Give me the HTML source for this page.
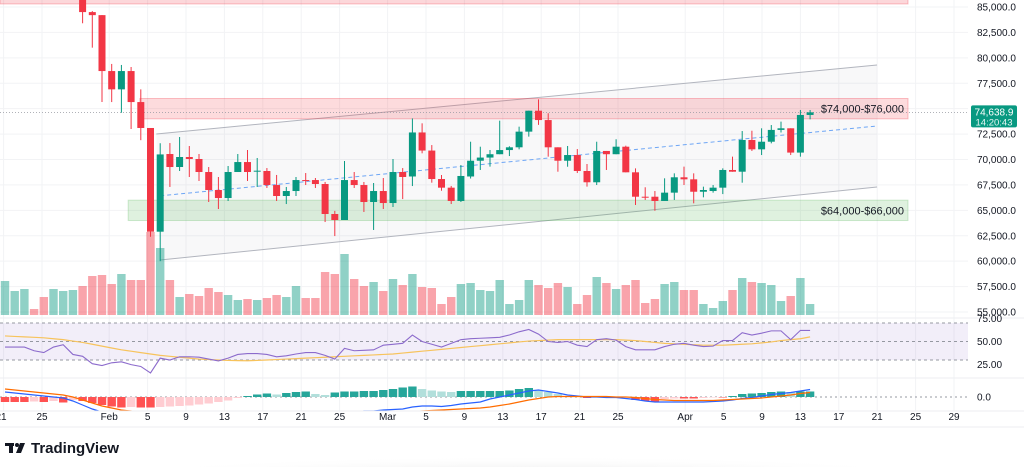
<!DOCTYPE html>
<html><head><meta charset="utf-8"><style>
html,body{margin:0;padding:0;background:#fff;width:1024px;height:467px;overflow:hidden}
svg{display:block;font-family:"Liberation Sans",sans-serif}
</style></head><body>
<svg id="chart" width="1024" height="467" viewBox="0 0 1024 467" xmlns="http://www.w3.org/2000/svg">
<defs>
<clipPath id="cp-price"><rect x="0" y="0" width="968" height="317"/></clipPath>
<clipPath id="cp-rsi"><rect x="0" y="319" width="968" height="58"/></clipPath>
<clipPath id="cp-macd"><rect x="0" y="379" width="968" height="32"/></clipPath>
<clipPath id="cp-dates"><rect x="0" y="411" width="968" height="16"/></clipPath>
<radialGradient id="shadow" cx="0.5" cy="1" r="0.6"><stop offset="0" stop-color="#d8d8d8"/><stop offset="1" stop-color="#ffffff" stop-opacity="0"/></radialGradient>
</defs>
<rect x="150" y="440" width="760" height="40" fill="url(#shadow)"/>
<g id="grid"></g>
<g id="zones" clip-path="url(#cp-price)"></g>
<g id="vol" clip-path="url(#cp-price)"></g>
<g id="candles" clip-path="url(#cp-price)"></g>
<g id="rsi" clip-path="url(#cp-rsi)"></g>
<g id="macd" clip-path="url(#cp-macd)"></g>
<g id="axes"></g>
<g id="dates" clip-path="url(#cp-dates)"></g>
<g>
<rect x="5" y="443" width="9" height="3" fill="#131722"/>
<rect x="9" y="443" width="4" height="10" fill="#131722"/>
<circle cx="17" cy="445" r="2" fill="#131722"/>
<polygon points="20,443 25,443 21,453 16,453" fill="#131722"/>
<text x="31" y="453" font-size="15" font-weight="bold" fill="#131722">TradingView</text>
</g>
</svg>
<script>
const opens=[88000,89000,90500,91500,91000,89500,90500,91000,86500,84500,84200,78700,76900,78700,75650,73100,62900,70540,69262,70246,70050,68770,67000,66210,68770,69750,68870,68870,67490,66410,66900,67980,67980,67590,64640,64050,67980,67490,65820,66900,65720,68770,68330,72660,70880,68080,67230,65920,68330,69880,70190,70520,70930,71200,72740,74800,73880,71200,69880,70440,68870,67760,70840,70520,71260,68740,66340,66340,65920,66740,68250,68050,66830,66900,67230,68970,68800,71920,71000,71750,72910,73070,70680,74380];
const highs=[90000,91000,92000,92000,91500,91000,91500,92500,87000,84600,84200,79400,79300,79100,76900,73100,71600,71620,72213,71328,70540,69260,68278,69360,70540,70930,70150,69160,68480,67300,68280,68670,68180,67790,64950,69850,68770,67790,67690,68180,70050,69160,74040,73560,71420,68480,67400,69460,71750,71260,70930,73820,71300,73230,74800,75920,74550,71200,71330,71030,69560,71750,70840,71990,71360,69130,67270,66900,68150,68640,69300,68640,67330,67490,69130,70280,72800,72830,73070,73390,73720,73070,74870,74870];
const lows=[87500,88500,90000,90500,89000,89000,90000,90500,83400,81000,75650,75650,74600,73000,71900,62400,60000,67300,68868,68278,67886,65820,65130,65920,68770,67880,67300,67200,65920,65620,66410,67490,67200,63850,62470,64050,67200,64840,63070,65130,65330,66110,67390,70610,67720,66930,65620,65820,68130,68970,69300,70520,70340,71000,72250,73400,70280,68800,69290,68670,67330,67490,68970,70520,68740,65530,66020,64960,65920,66020,67490,65690,66280,66740,66600,68800,67720,70840,70440,71590,72650,70440,70280,73950];
const closes=[89000,90500,91500,91000,89500,90500,91000,92000,84500,84200,78700,76900,78700,75650,73100,62900,70500,69260,70246,70050,68770,67000,66210,68770,69750,68770,68900,67490,66410,66900,67980,67950,67590,64640,64050,67980,67490,65820,66900,65720,68770,68280,72660,70880,68080,67230,65920,68380,69880,70190,70520,70930,71200,72740,74800,73880,71200,69880,70440,68870,67760,70840,70520,71260,68740,66340,66320,65920,66740,68250,68050,66830,67000,67230,68970,68800,71920,71000,71750,72910,73070,70680,74380,74639];
const volumes=[34,24,26,6,18,26,24,25,29,39,40,31,41,35,35,83,67,35,18,21,19,27,23,20,15,16,15,17,20,18,29,17,17,43,41,61,36,29,33,24,36,30,41,28,27,11,18,31,32,25,24,35,11,15,35,30,27,32,28,11,20,38,32,26,30,35,12,16,31,33,25,25,11,7,14,25,37,33,32,30,14,19,37,11];
const rsiValues=[44,44,44,40,38,44,46.5,36,34,26,24,27,28,25,23,16,32,30,33.5,33.5,33,31,29,32,36,37,37,36,33.5,34.5,36.5,38,38,35,31,42.6,40,40.5,41,46,47,48,57,50,47,44,48,52,53,53.5,54,54.5,57,60.5,63,58,50,49,50,46,44.5,52,53,51.5,44.5,41,41,41,44.5,47,48,46,44.5,45,51,51,59.5,57,59,61.5,61.5,52,62,62];
const rsiMA=[56,55.5,55,54.5,54,53,52,50.5,49,47,45,43,41,39.5,38,36.5,35,34,33,32,31,30.5,30,29.5,29.3,29.2,29.5,30,30.5,31,31.5,32,32.5,33,33.5,34,34.5,35,35.5,36,36.5,37.5,38.5,39.5,40.5,41.5,42.5,43.5,44.5,45.5,46.5,47.5,48.5,49.5,50.5,51,51.5,52,52,52,52,52,52,52,51.5,51,50,49,48,47.5,47,46.5,46,46,46,46.5,47,47.5,48.5,49.5,51,52,53,55];
const macdHist=[-5,-5,-5,-4.5,-5,-4,-5.5,-3,-4,-6,-8,-9.5,-10.5,-10,-10.5,-10.5,-10,-9.5,-9,-8.5,-7.5,-6.5,-5,-3.5,-1,1,2.5,3.5,2.5,4,5,5.5,3,2,4.5,5.5,5.5,6,6,7,8,9.5,10.5,8,6.5,5.5,5,6,6,6,6,6,6.5,8,9,7,5,3,1,0.5,-1,0.5,0.5,0.5,-0.5,-3,-4,-4.5,-2,-1.5,-1.5,-1.5,-1,-0.5,-0.5,1,3,3.5,4,5,5.5,5,5.5,5.5];
const macdLine=[5,4,3,2,1,0,-1,-4,-8,-12,-15,-18,-20,-22,-24,-27,-27,-27,-27,-26,-26,-25,-25,-24,-23,-22,-21,-20,-20,-19,-18,-17,-17,-17,-17,-16,-15,-14,-14,-13,-12.5,-12,-10,-9,-9,-9.5,-8.5,-7,-6,-5,-2,0,2,4,6,7,5.5,4,2,1,0,0,-0.5,-0.5,-1.5,-2.5,-4,-5,-5,-5,-5,-5,-5,-4.5,-4,-3,-1.5,-0.5,1,2.5,3.5,4.5,6,7.5];
const signalLine=[8,7,6,5,4,3,2,0,-3,-6,-9,-11,-13,-14,-15,-16,-17,-17.5,-18,-19,-20,-20.5,-21,-21,-21,-21,-21,-21,-20.5,-20,-20,-19.5,-19,-19,-18.5,-18,-17.5,-17,-16.5,-16,-15.5,-15,-14.5,-14,-13.5,-13,-12.5,-12,-11.5,-11,-10,-8.5,-7,-5,-3,-1.5,0,0.5,0.5,0.5,0.5,0.5,0.5,0,0,-0.5,-1.5,-2.5,-3,-3.5,-3.5,-3.5,-3.5,-3.5,-3,-2.5,-2,-1.5,-1,0,1,2,3.5,4.5];
const priceTicks=[85000,82500,80000,77500,72500,70000,67500,65000,62500,60000,57500,55000];
const dateLabels=["21","25","Feb","5","9","13","17","21","25","Mar","5","9","13","17","21","25","Apr","5","9","13","17","21","25","29"];
const dateDays=[0,4,11,15,19,23,27,31,35,40,44,48,52,56,60,64,71,75,79,83,87,91,95,99];
const rsiTicks=[75,50,25];
const lastPrice=74638.9;

const NS="http://www.w3.org/2000/svg";
function mk(tag,attrs,parent){const e=document.createElementNS(NS,tag);for(const k in attrs)e.setAttribute(k,attrs[k]);parent.appendChild(e);return e;}
const xK=k=>5+k*9.7;
const xD=d=>3.6+d*9.6;
const yP=p=>7+(85000-p)*0.010167;
const yV=v=>315-v;
const yR=r=>341.5-(r-50)*0.925;
const yM=m=>397-m;
const G="#089981",R="#f23645";
const $=id=>document.getElementById(id);

const grid=$("grid");
dateDays.forEach(d=>{const l=mk("line",{x1:xD(d),x2:xD(d),y1:0,y2:411,stroke:"#f2f3f5","stroke-width":1},grid);

});
priceTicks.concat([75000]).forEach(p=>{const l=mk("line",{x1:0,x2:968,y1:yP(p),y2:yP(p),stroke:"#f2f3f5","stroke-width":1},grid);

});

const z=$("zones");
let e;
e=mk("rect",{x:0,y:yP(86000),width:908,height:yP(85300)-yP(86000),fill:"rgba(242,54,69,0.2)",stroke:"rgba(242,54,69,0.3)"},z);


e=mk("polygon",{points:`${xK(15.6)},${yP(72509)} ${xK(89.9)},${yP(79295)} ${xK(89.9)},${yP(67296)} ${xK(16)},${yP(60115)}`,fill:"rgba(120,123,134,0.05)"},z);


e=mk("line",{x1:xK(15.6),y1:yP(72509),x2:xK(89.9),y2:yP(79295),stroke:"#b2b5be","stroke-width":1},z);


e=mk("line",{x1:xK(16),y1:yP(60115),x2:xK(89.9),y2:yP(67296),stroke:"#b2b5be","stroke-width":1},z);


e=mk("rect",{x:xK(13.9),y:yP(76000),width:908-xK(13.9),height:yP(74000)-yP(76000),fill:"rgba(242,54,69,0.18)",stroke:"rgba(242,54,69,0.3)"},z);


e=mk("rect",{x:xK(12.7),y:yP(66000),width:908-xK(12.7),height:yP(64000)-yP(66000),fill:"rgba(76,175,80,0.18)",stroke:"rgba(76,175,80,0.25)"},z);


e=mk("line",{x1:xK(16),y1:yP(66430),x2:xK(89.9),y2:yP(73296),stroke:"#6ea6f5","stroke-width":1,"stroke-dasharray":"4,3"},z);


e=mk("line",{x1:0,y1:yP(lastPrice),x2:968,y2:yP(lastPrice),stroke:"#9598a1","stroke-width":0.7,"stroke-dasharray":"1,2"},z);


e=mk("text",{x:904,y:yP(75000)+4,"text-anchor":"end","font-size":11,fill:"#131722"},z);e.textContent="$74,000-$76,000";


e=mk("text",{x:904,y:yP(65000)+4,"text-anchor":"end","font-size":11,fill:"#131722"},z);e.textContent="$64,000-$66,000";



const vg=$("vol");
volumes.forEach((v,k)=>{const up=closes[k]>=opens[k];
const r=mk("rect",{x:xK(k)-4.2,y:yV(v),width:8.4,height:v,fill:up?"rgba(8,153,129,0.45)":"rgba(242,54,69,0.45)"},vg);

});

const cg=$("candles");
opens.forEach((o,k)=>{const c=closes[k],up=c>=o,col=up?G:R,x=xK(k);
const g=mk("g",{},cg);


mk("line",{x1:x,x2:x,y1:yP(highs[k]),y2:yP(lows[k]),stroke:col,"stroke-width":1},g);
const t=yP(Math.max(o,c)),b=yP(Math.min(o,c));
mk("rect",{x:x-3.5,y:t,width:7,height:Math.max(1,b-t),fill:col},g);});

const rg=$("rsi");
e=mk("rect",{x:0,y:yR(70),width:968,height:yR(30)-yR(70),fill:"rgba(126,87,194,0.1)"},rg);


[70,50,30].forEach(v=>{const l=mk("line",{x1:0,x2:968,y1:yR(v),y2:yR(v),stroke:"#9598a1","stroke-width":1,"stroke-dasharray":"3,3"},rg);

});
e=mk("polyline",{points:rsiMA.map((v,k)=>xK(k)+","+yR(v)).join(" "),fill:"none",stroke:"#f7c35c","stroke-width":1.2},rg);


e=mk("polyline",{points:rsiValues.map((v,k)=>xK(k)+","+yR(v)).join(" "),fill:"none",stroke:"#8c6bcc","stroke-width":1.1},rg);



const mg=$("macd");
e=mk("line",{x1:0,x2:968,y1:yM(0),y2:yM(0),stroke:"#9598a1","stroke-width":1,"stroke-dasharray":"2,3"},mg);


macdHist.forEach((h,k)=>{const prev=k>0?macdHist[k-1]:h;let col;
if(h>=0)col=h>=prev?"#26a69a":"#b2dfdb";else col=h<=prev?"#ff5252":"#ffcdd2";
const r=mk("rect",{x:xK(k)-4.2,y:Math.min(yM(0),yM(h)),width:8.4,height:Math.abs(h),fill:col},mg);

});
e=mk("polyline",{points:macdLine.map((v,k)=>xK(k)+","+yM(v)).join(" "),fill:"none",stroke:"#2962ff","stroke-width":1.2},mg);


e=mk("polyline",{points:signalLine.map((v,k)=>xK(k)+","+yM(v)).join(" "),fill:"none",stroke:"#ff6d00","stroke-width":1.2},mg);



const ax=$("axes");
[[318,"price-pane-divider"],[378,"rsi-pane-divider"],[411,"macd-pane-divider"],[427,"chart-bottom-border"]].forEach(([y,n])=>{
const l=mk("line",{x1:0,x2:1024,y1:y,y2:y,stroke:"#eceef2","stroke-width":1},ax);

});
priceTicks.forEach(p=>{const t=mk("text",{x:977,y:yP(p)+3.5,"font-size":10,fill:"#131722"},ax);
t.textContent=p.toLocaleString("en-US")+".0";

});
rsiTicks.forEach(v=>{const t=mk("text",{x:977,y:yR(v)+3.5,"font-size":10,fill:"#131722"},ax);
t.textContent=v.toFixed(2);

});
e=mk("text",{x:977,y:yM(0)+3.5,"font-size":10,fill:"#131722"},ax);e.textContent="0.0";


const dg=$("dates");
dateLabels.forEach((s,i)=>{const t=mk("text",{x:i===0?1:xD(dateDays[i]),y:420,"text-anchor":"middle","font-size":10,fill:"#131722"},dg);
t.textContent=s;

});
const pl=mk("g",{},ax);


mk("rect",{x:971,y:yP(lastPrice)-7,width:46,height:22,rx:2,fill:G},pl);
const t1=mk("text",{x:994,y:yP(lastPrice)+3,"text-anchor":"middle","font-size":10,fill:"#fff"},pl);t1.textContent=lastPrice.toLocaleString("en-US",{minimumFractionDigits:1});
const t2=mk("text",{x:994,y:yP(lastPrice)+13,"text-anchor":"middle","font-size":9.5,fill:"#e6f5f2"},pl);t2.textContent="14:20:43";
</script>
</body></html>
